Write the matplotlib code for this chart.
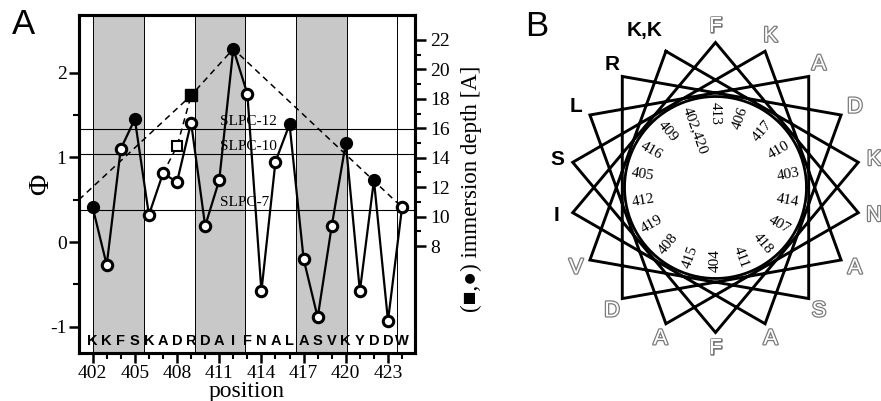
import numpy as np
import matplotlib.pyplot as plt
import matplotlib.patheffects as pe
from matplotlib.ticker import FixedLocator

plt.rcParams['font.family'] = ['Liberation Serif', 'DejaVu Sans']
plt.rcParams['axes.unicode_minus'] = False

# ---- panel A data ----
positions = list(range(402, 425))
sequence = list("KKFSKADRDAIFNALASVKYDDW")
phi = [0.41, -0.27, 1.10, 1.45, 0.32, 0.81, 0.71, 1.41, 0.19, 0.73, 2.28, 1.75,
       -0.58, 0.95, 1.39, -0.20, -0.89, 0.19, 1.17, -0.58, 0.73, -0.93, 0.41]
filled_pos = [402, 405, 412, 416, 420, 422]
square_pos = [408, 409]
square_phi = [1.13, 1.73]
square_filled = [False, True]
depth_pos = [401.03, 409, 412, 424]
depth_phi = [0.50, 1.73, 2.28, 0.41]
short_pos = [407, 408, 409]
short_phi = [0.81, 1.13, 1.73]
slpc_names = ['SLPC-12', 'SLPC-10', 'SLPC-7']
slpc_phi = [1.33, 1.035, 0.375]
band_edges = [402.05, 405.65, 409.25, 412.85, 416.45, 420.05, 423.65]

# ---- panel B data ----
wheel_res = list(range(402, 421))
wheel_seq = list("KKFSKADRDAIFNALASVK")
dark_res = [402, 405, 409, 412, 416, 420]

fig = plt.figure(figsize=(8.81, 4.01), dpi=100)

# ================= panel A =================
ax = fig.add_axes([79/881, 48/401, 336/881, 338/401])
ax.set_xlim(401.03, 424.92)
ax.set_ylim(-1.31, 2.68)

for i in range(0, len(band_edges) - 1, 2):
    ax.axvspan(band_edges[i], band_edges[i+1], color='#c8c8c8', lw=0, zorder=0)
for e in band_edges:
    ax.axvline(e, color='black', lw=0.7, zorder=1)

for name, y in zip(slpc_names, slpc_phi):
    ax.axhline(y, color='black', lw=0.8, zorder=1)
    ax.text(411.05, y + 0.015, name, fontsize=11, ha='left', va='bottom', zorder=2)

ax.plot(depth_pos, depth_phi, ls=(0, (4, 3)), color='black', lw=1.1, zorder=3)
ax.plot(short_pos, short_phi, ls=(0, (4, 3)), color='black', lw=1.1, zorder=3)
ax.plot(positions, phi, color='black', lw=1.6, zorder=4)

for p, v in zip(positions, phi):
    if p in filled_pos:
        ax.plot(p, v, 'o', ms=8.5, mfc='black', mec='black', mew=1, zorder=5)
    else:
        ax.plot(p, v, 'o', ms=7.5, mfc='white', mec='black', mew=2.2, zorder=5)
for p, v, f in zip(square_pos, square_phi, square_filled):
    if f:
        ax.plot(p, v, 's', ms=9, mfc='black', mec='black', zorder=6)
    else:
        ax.plot(p, v, 's', ms=7, mfc='white', mec='black', mew=1.5, zorder=6)

for p, s in zip(positions, sequence):
    ax.text(p, -1.165, s, ha='center', va='center', fontsize=10.5,
            fontweight='bold', family='Liberation Sans', zorder=6)

for sp in ax.spines.values():
    sp.set_linewidth(2.2)

ax.set_xticks(range(402, 425, 3))
ax.xaxis.set_minor_locator(FixedLocator(positions))
ax.set_yticks([-1, 0, 1, 2])
ax.yaxis.set_minor_locator(FixedLocator([-0.5, 0.5, 1.5]))
ax.tick_params(which='major', direction='out', length=7, width=1.8, labelsize=14, pad=2)
ax.tick_params(which='minor', direction='out', length=4, width=1.5)
ax.set_xlabel('position', fontsize=17, labelpad=-1)
ax.set_ylabel('Φ', fontsize=21)
ax.yaxis.set_label_coords(-0.075, 0.50)

ax_r = ax.twinx()
ax_r.set_ylim(8.27 + 5.757 * np.array(ax.get_ylim()))
ax_r.set_yticks(range(8, 23, 2))
ax_r.yaxis.set_minor_locator(FixedLocator(range(9, 22, 2)))
ax_r.tick_params(which='major', direction='out', length=8, width=1.8, labelsize=14, pad=3)
ax_r.tick_params(which='minor', direction='out', length=4, width=1.5)
for sp in ax_r.spines.values():
    sp.set_linewidth(2.2)
ax_r.set_ylabel('(■,●) immersion depth [A]', fontsize=16.5)
ax_r.yaxis.set_label_coords(1.135, 0.485)

fig.text(23/881, 1 - 25/401, 'A', fontsize=25, family='Liberation Sans',
         ha='center', va='center')

# ================= panel B =================
cx, cy = 715.5, 187.5
half = 190
axb = fig.add_axes([(cx - half)/881, (401 - cy - half)/401, 2*half/881, 2*half/401])
axb.set_xlim(-half, half)
axb.set_ylim(-half, half)
axb.set_axis_off()

R = 145
ang = np.radians([110 - 100 * (r - 402) for r in wheel_res])
axb.plot(R * np.cos(ang), R * np.sin(ang), color='black', lw=2.1,
         solid_joinstyle='miter')
t = np.linspace(0, 2*np.pi, 200)
axb.plot(91 * np.cos(t), 91 * np.sin(t), color='black', lw=2.0)

# group residues by wheel angle
groups = {}
for r, s in zip(wheel_res, wheel_seq):
    a = (110 - 100 * (r - 402)) % 360
    a = a - 360 if a > 180 else a
    groups.setdefault(a, []).append((r, s))

for a, items in groups.items():
    rad = np.radians(a)
    nums = ','.join(str(r) for r, _ in items)
    if -90 < a < 90:
        rot, ha = a, 'right'
    else:
        rot, ha = a - 180 if a > 0 else a + 180, 'left'
    axb.text(85 * np.cos(rad), 85 * np.sin(rad), nums, fontsize=11,
             rotation=rot, rotation_mode='anchor', ha=ha, va='center')

    letters = ','.join(s for _, s in items)
    lr = 161
    lx, ly = lr * np.cos(rad), lr * np.sin(rad)
    lha = 'center'
    if len(items) > 1:
        lx, ly, lha = 167 * np.cos(rad) + 4, 167 * np.sin(rad), 'right'
    if items[0][0] in dark_res:
        axb.text(lx, ly, letters, fontsize=15, fontweight='bold',
                 family='Liberation Sans', ha=lha, va='center', color='black')
    else:
        axb.text(lx, ly, letters, fontsize=15.5, family='Liberation Sans',
                 ha=lha, va='center', color='white',
                 path_effects=[pe.withStroke(linewidth=1.8, foreground='#7a7a7a')])

fig.text(536.7/881, 1 - 26.7/401, 'B', fontsize=25, family='Liberation Sans',
         ha='center', va='center')

fig.savefig('out.png', dpi=100)
